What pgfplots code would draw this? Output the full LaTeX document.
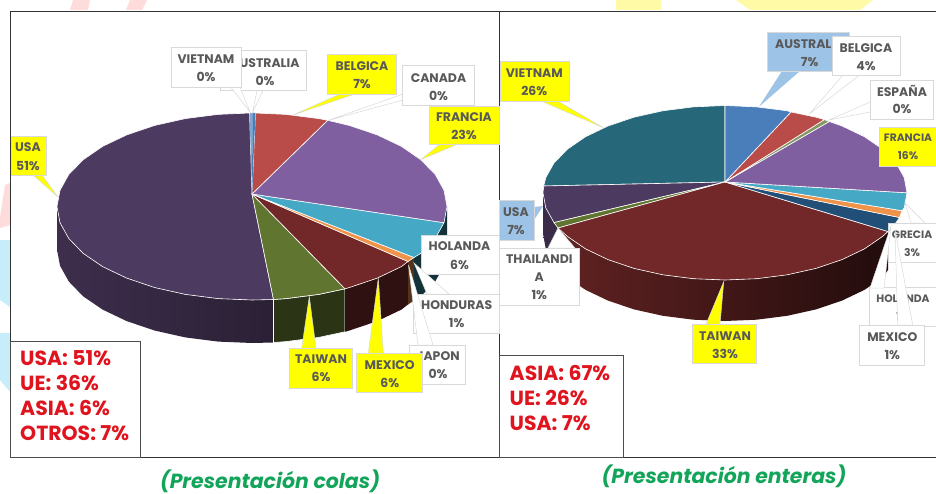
\documentclass[border=0pt]{standalone}
\usepackage{pgfplots}
\pgfplotsset{compat=1.18}
\usepackage{fontspec}
\setmainfont{Poppins}
\definecolor{lbtxt}{HTML}{595959}
\definecolor{lbdr}{HTML}{D9D9D9}
\definecolor{yel}{HTML}{FFFF00}
\definecolor{blu}{HTML}{9DC3E6}
\definecolor{redt}{HTML}{E0141E}
\definecolor{grnt}{HTML}{12A55A}
\definecolor{cusa}{HTML}{4D3A60}
\definecolor{cpur}{HTML}{7F5F9F}
\definecolor{cred}{HTML}{B94C49}
\definecolor{clbl}{HTML}{45A8C5}
\definecolor{cora}{HTML}{F0934A}
\definecolor{cdrd}{HTML}{722828}
\definecolor{cgrn}{HTML}{5F7530}
\definecolor{cblu}{HTML}{4A7EBB}
\definecolor{cvie}{HTML}{26687A}
\definecolor{cnav}{HTML}{214F78}
\newcommand\slice[2]{\addplot[draw=white,line width=.6pt,line join=round,fill=#1] coordinates {#2} -- cycle;}
\newcommand\flatp[2]{\addplot[draw=none,fill=#1] coordinates {#2} -- cycle;}
\newcommand\labbox[5]{\draw[draw=lbdr,line width=.6pt,fill=#5] (axis cs:#1,#2) rectangle (axis cs:#3,#4);}
\newcommand\lab[3]{\node[text=lbtxt,inner sep=0pt,font=\bfseries\fontsize{12.5}{14}\selectfont] at (axis cs:#1,#2) {#3};}
\newcommand\labs[3]{\node[text=lbtxt,inner sep=0pt,font=\bfseries\fontsize{10.8}{14}\selectfont] at (axis cs:#1,#2) {#3};}
\newcommand\redl[3]{\node[text=redt,inner sep=0pt,anchor=base west,font=\bfseries\fontsize{20.5}{22}\selectfont] at (axis cs:#1,#2) {#3};}
\begin{document}
\begin{tikzpicture}
\path[use as bounding box] (0,0) rectangle (936bp,494bp);
\begin{axis}[at={(0,0)},anchor=south west,scale only axis,width=936bp,height=494bp,
  xmin=0,xmax=936,ymin=0,ymax=494,y dir=reverse,axis line style={draw=none},ticks=none,clip=false]
% faint background
\flatp{pink!55}{(73,0)(90,0)(88,10)(70,10)}
\flatp{pink!55}{(130,0)(147,0)(142,10)(126,10)}
\flatp{pink!55}{(0,217)(5,185)(10,183)(10,225)(0,228)}
\flatp{cyan!22}{(0,240)(10,240)(10,307)(0,300)}
\flatp{cyan!22}{(0,333)(10,333)(10,392)(0,380)}
\flatp{yellow!35}{(616,0)(661,0)(661,10)(616,10)}
\flatp{yellow!35}{(736,0)(873,0)(860,10)(750,10)}
\flatp{yellow!35}{(496,105)(499,105)(499,145)(496,145)}
% frames
\draw[draw=black!80,line width=.8pt,fill=white] (axis cs:10.5,11) rectangle (axis cs:499.5,457.5);
\draw[draw=black!80,line width=.8pt,fill=white] (axis cs:499.5,11) rectangle (axis cs:945,457.5);
% LEFT PIE sides
\addplot[draw=none,left color=cusa!80!black,right color=cusa!55!black] coordinates {(57,206.5)(60,222.7)(68.8,238.5)(83.1,253.3)(102.6,266.6)(126.7,278.1)(154.5,287.5)(185.3,294.4)(218.1,298.6)(252,300)(273.5,299.5)(273.5,342.5)(252,343)(218.1,341.6)(185.3,337.4)(154.5,330.5)(126.7,321.1)(102.6,309.6)(83.1,296.3)(68.8,281.5)(60,265.7)(57,249.5)} -- cycle;
\addplot[draw=white,line width=.6pt,fill=cgrn!45!black] coordinates {(273.5,299.5)(285.9,298.6)(318.7,294.4)(345,288.8)(345,331.8)(318.7,337.4)(285.9,341.6)(273.5,342.5)} -- cycle;
\flatp{cdrd!42!black}{(345,288.8)(349.5,287.5)(377.3,278.1)(401.4,266.6)(408,261.5)(408,304.5)(401.4,309.6)(377.3,321.1)(349.5,330.5)(345,331.8)}
\flatp{cora!35!black}{(408,261.5)(414,257.5)(414,300.5)(408,304.5)}
\flatp{clbl!30!black}{(447,206.5)(444,222.7)(435.2,238.5)(420.9,253.3)(414,257.5)(414,300.5)(420.9,296.3)(435.2,281.5)(444,265.7)(447,249.5)}
% LEFT PIE top
\slice{cusa}{(252,194)(273.5,299.5)(252,300)(218.1,298.6)(185.3,294.4)(154.5,287.5)(126.7,278.1)(102.6,266.6)(83.1,253.3)(68.8,238.5)(60,222.7)(57,206.5)(60,190.3)(68.8,174.5)(83.1,159.8)(102.6,146.4)(126.7,134.9)(154.5,125.5)(185.3,118.6)(218.1,114.4)(249.5,113)}
\slice{cgrn}{(252,194)(345,288.8)(318.7,294.4)(285.9,298.6)(273.5,299.5)}
\slice{cdrd}{(252,194)(408,261.5)(401.4,266.6)(377.3,278.1)(349.5,287.5)(345,288.8)}
\slice{cora}{(252,194)(414,257.5)(408,261.5)}
\slice{clbl}{(252,194)(444,222.7)(435.2,238.5)(420.9,253.3)(414,257.5)}
\slice{cpur}{(252,194)(327.7,120.3)(349.5,125.5)(377.3,134.9)(401.4,146.4)(420.9,159.8)(435.2,174.5)(444,190.3)(447,206.5)(444,222.7)}
\slice{cred}{(252,194)(255.5,113)(285.9,114.4)(318.7,118.6)(327.7,120.3)}
\flatp{cblu!70!white}{(252,194)(249.5,113)(252.5,113)}
\flatp{cblu}{(252,194)(252.5,113)(255.5,113)}
% LEFT labels
\addplot[draw=lbdr,line width=.5pt,fill=white] coordinates {(257,90.7)(263,90.7)(252.5,112.5)} -- cycle;
\labbox{220}{50.7}{306.7}{90.7}{white}\lab{265}{63}{AUSTRALIA}\lab{265}{81}{0\%}
\addplot[draw=lbdr,line width=.5pt,fill=white] coordinates {(231,87.3)(240,87.3)(250,112)} -- cycle;
\labbox{171}{47.7}{241.7}{87.3}{white}\lab{206}{59}{VIETNAM}\lab{206}{77}{0\%}
\addplot[draw=lbdr,line width=.5pt,fill=yel] coordinates {(340,94)(355,94)(293,115)} -- cycle;
\labbox{327.7}{54.3}{396.7}{94}{yel}\lab{362}{66}{BELGICA}\lab{362}{84}{7\%}
\addplot[draw=lbdr,line width=.5pt,fill=white] coordinates {(403,94)(403,100)(328,120.5)} -- cycle;
\labbox{402.7}{65.7}{474.3}{105.3}{white}\lab{438.5}{78}{CANADA}\lab{438.5}{96}{0\%}
\addplot[draw=lbdr,line width=.5pt,fill=yel] coordinates {(440,144)(458,144)(421,159.5)} -- cycle;
\labbox{429}{106}{499}{144.3}{yel}\lab{464}{117}{FRANCIA}\lab{464}{135}{23\%}
\addplot[draw=lbdr,line width=.5pt,fill=yel] coordinates {(33,175)(42,175)(58,197)} -- cycle;
\labbox{11}{136.3}{46}{175}{yel}\lab{28}{147}{USA}\lab{28}{166}{51\%}
\labbox{421.7}{235.7}{499.5}{274}{white}\lab{459.5}{246.5}{HOLANDA}\lab{459.5}{265}{6\%}
\addplot[draw=lbdr,line width=.5pt,fill=white] coordinates {(414,263)(427,294)(449,294)} -- cycle;
\labbox{413}{294}{499.5}{333}{white}\lab{456.7}{305}{HONDURAS}\lab{456.7}{323}{1\%}
\addplot[draw=lbdr,line width=.5pt,fill=white] coordinates {(408.5,265)(418,345)(433,345)} -- cycle;
\labbox{409.3}{345}{465.7}{384.3}{white}\lab{438}{356}{JAPON}\lab{438}{374}{0\%}
\addplot[draw=lbdr,line width=.5pt,fill=yel] coordinates {(301.7,348.3)(316,348.3)(309.3,296.7)} -- cycle;
\labbox{289.3}{348.3}{352.7}{388}{yel}\lab{321}{359}{TAIWAN}\lab{321}{377}{6\%}
\addplot[draw=lbdr,line width=.5pt,fill=yel] coordinates {(368.3,353.3)(383.3,353.3)(378.3,278.3)} -- cycle;
\labbox{356.7}{353.3}{422.3}{392.7}{yel}\lab{389.7}{365}{MEXICO}\lab{389.7}{383}{6\%}
% LEFT text box
\draw[draw=black!70,line width=.7pt,fill=white] (axis cs:10.5,341) rectangle (axis cs:140,457.5);
\redl{20}{365}{USA: 51\%}\redl{20}{390}{UE: 36\%}\redl{20}{415}{ASIA: 6\%}\redl{20}{440}{OTROS: 7\%}
\node[text=grnt,inner sep=0pt,font=\bfseries\itshape\fontsize{20.5}{24}\selectfont] at (axis cs:270,481) {(Presentación colas)};
% RIGHT PIE sides
\addplot[draw=none,left color=cusa!75!black,right color=cusa!75!black] coordinates {(543,192.8)(545.8,208)(554,222.6)(558,228)(558,269)(554,263.6)(545.8,249)(543,233.8)} -- cycle;
\addplot[draw=none,left color=cdrd!85!black,right color=cdrd!30!black] coordinates {(559,229)(567.4,236.4)(585.6,248.9)(608,259.6)(634,268.4)(662.8,274.8)(693.4,278.7)(725,280)(756.6,278.7)(787.2,274.8)(816,268.4)(842,259.6)(864.4,248.9)(882.6,236.4)(888,231.5)(888,270)(882.6,277.4)(864.4,289.9)(842,300.6)(816,309.4)(787.2,315.8)(756.6,319.7)(725,321)(693.4,319.7)(662.8,315.8)(634,309.4)(608,300.6)(585.6,289.9)(567.4,277.4)(559,270)} -- cycle;
% RIGHT PIE top
\slice{cvie}{(725,182)(543.7,186)(545.8,177.6)(554,163)(567.4,149.2)(585.6,136.7)(608,126)(634,117.2)(662.8,110.8)(693.4,106.9)(725,105.5)}
\slice{cusa}{(725,182)(554,222.6)(545.8,208)(543,192.8)(543.7,186)}
\slice{cgrn}{(725,182)(558,228)(554,222.6)}
\slice{cdrd}{(725,182)(888,231.5)(882.6,236.4)(864.4,248.9)(842,259.6)(816,268.4)(787.2,274.8)(756.6,278.7)(725,280)(693.4,278.7)(662.8,274.8)(634,268.4)(608,259.6)(585.6,248.9)(567.4,236.4)(558,228)}
\slice{cnav}{(725,182)(899.5,217.5)(896,222.6)(888,231.5)}
\slice{cora}{(725,182)(902,210.7)(899.5,217.5)}
\slice{clbl}{(725,182)(907,192.8)(904.2,208)(902,210.7)}
\slice{cpur}{(725,182)(829.3,121.5)(842,126)(864.4,136.7)(882.6,149.2)(896,163)(904.2,177.6)(907,192.8)}
\slice{cgrn!75!white}{(725,182)(824.3,119.6)(829.3,121.5)}
\slice{cred}{(725,182)(791,112)(816,117.2)(824.3,119.6)}
\slice{cblu}{(725,182)(725,105.5)(756.6,106.9)(787.2,110.8)(791,112)}
% RIGHT labels
\addplot[draw=none,fill=blu] coordinates {(782,71)(800,71)(759,106.7)} -- cycle;
\labbox{767.7}{32.3}{849.3}{71}{blu}\lab{809.7}{44}{AUSTRALIA}\lab{809.7}{62}{7\%}
\addplot[draw=lbdr,line width=.5pt,fill=white] coordinates {(842.7,75.3)(859.3,75.3)(809.3,114)} -- cycle;
\labbox{832}{36}{900.3}{75.3}{white}\lab{866}{47.7}{BELGICA}\lab{866}{65.7}{4\%}
\addplot[draw=lbdr,line width=.5pt,fill=white] coordinates {(870.3,102)(870.3,112)(829,120)} -- cycle;
\labbox{870.3}{80}{933.7}{119.3}{white}\lab{902}{91}{ESPAÑA}\lab{902}{109}{0\%}
\labbox{879.3}{127}{945}{166.7}{yel}\labs{908}{138}{FRANCIA}\labs{908}{156}{16\%}
\addplot[draw=lbdr,line width=.5pt,fill=yel] coordinates {(541,101)(557.7,101)(603.3,127.7)} -- cycle;
\labbox{500}{61}{569.3}{101}{yel}\lab{534.3}{73}{VIETNAM}\lab{534.3}{91}{26\%}
\addplot[draw=none,fill=blu] coordinates {(534,207)(543,206)(534,220)} -- cycle;
\labbox{499.5}{200}{534.3}{240}{blu}\lab{516}{212}{USA}\lab{516}{230}{7\%}
\addplot[draw=lbdr,line width=.5pt,fill=white] coordinates {(558,228)(548,248)(575,248)} -- cycle;
\labbox{499.5}{248}{579.3}{305}{white}\lab{539.3}{259}{THAILANDI}\lab{539.3}{277}{A}\lab{539.3}{295}{1\%}
\addplot[draw=lbdr,line width=.5pt,fill=white] coordinates {(905,203)(911,223)(925,223)} -- cycle;
\labbox{888.3}{223.3}{945}{262.3}{white}\labs{912}{235}{GRECIA}\labs{912}{253}{3\%}
\labbox{869.3}{287.7}{945}{326.7}{white}\labs{903}{299}{HOLANDA}\labs{903}{317}{1\%}
\addplot[draw=lbdr,line width=.5pt,fill=white] coordinates {(891,226)(870,288)(884,288)} -- cycle;
\addplot[draw=lbdr,line width=.5pt,fill=white] coordinates {(895,230)(897.7,325)(912.7,325)} -- cycle;
\labbox{859}{325.3}{924.3}{365.3}{white}\lab{892.3}{337}{MEXICO}\lab{892.3}{355}{1\%}
\addplot[draw=lbdr,line width=.5pt,fill=yel] coordinates {(706,324.3)(720,324.3)(723.7,281.7)} -- cycle;
\labbox{692.7}{324.3}{756}{363.7}{yel}\lab{725}{336}{TAIWAN}\lab{725}{354}{33\%}
% RIGHT text box
\draw[draw=black!70,line width=.7pt,fill=white] (axis cs:499.5,355) rectangle (axis cs:623.7,457.5);
\redl{509.5}{380}{ASIA: 67\%}\redl{509.5}{405}{UE: 26\%}\redl{509.5}{430}{USA: 7\%}
\node[text=grnt,inner sep=0pt,font=\bfseries\itshape\fontsize{20.5}{24}\selectfont] at (axis cs:724,476) {(Presentación enteras)};
\end{axis}
\end{tikzpicture}
\end{document}
